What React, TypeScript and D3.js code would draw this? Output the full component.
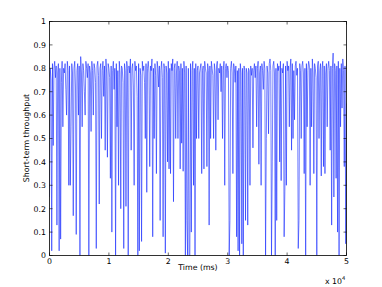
import React from "react";
import * as d3 from "d3";

const STEP_MS = 125;
const xTicks = [0, 10000, 20000, 30000, 40000, 50000];
const xTickLabels = ["0", "1", "2", "3", "4", "5"];
const yTicks = [0, 0.1, 0.2, 0.3, 0.4, 0.5, 0.6, 0.7, 0.8, 0.9, 1];
const yTickLabels = ["0", "0.1", "0.2", "0.3", "0.4", "0.5", "0.6", "0.7", "0.8", "0.9", "1"];

const throughput = [
  0.25, 0.8, 0.75, 0.02, 0.82, 0.47, 0.8, 0.83, 0.76, 0.81, 0.13, 0.78, 0.82, 0.02, 0.8, 0.07, 0.74, 0.83, 0.55, 0.8,
  0.78, 0.82, 0.71, 0.6, 0.83, 0.79, 0.3, 0.81, 0.3, 0.55, 0.82, 0.78, 0.17, 0.8, 0.83, 0.72, 0.09, 0.79, 0.82, 0.6,
  0.81, 0, 0.85, 0.78, 0.55, 0.82, 0.79, 0.7, 0.6, 0.83, 0.8, 0.76, 0.82, 0, 0.81, 0.78, 0.53, 0.83, 0.79, 0.6,
  0.82, 0.8, 0.74, 0.03, 0.81, 0.83, 0.77, 0.22, 0.8, 0.82, 0.5, 0.79, 0.83, 0.68, 0.81, 0.45, 0.84, 0.78, 0.42, 0.82,
  0.8, 0.76, 0.33, 0.81, 0.1, 0.79, 0.83, 0.71, 0.8, 0, 0.82, 0.55, 0.79, 0.3, 0.83, 0.78, 0.2, 0.81, 0.8, 0.74,
  0.03, 0.82, 0.79, 0.21, 0.83, 0.8, 0, 0.81, 0.78, 0.84, 0.45, 0.8, 0.82, 0.72, 0.3, 0.83, 0.79, 0.81, 0.68, 0,
  0.82, 0.02, 0.8, 0.77, 0.06, 0.83, 0.79, 0.81, 0.74, 0.5, 0.82, 0.27, 0.8, 0.83, 0.78, 0.38, 0.81, 0.79, 0.84, 0.08,
  0.8, 0.5, 0.82, 0.77, 0.35, 0.83, 0.8, 0.72, 0.81, 0.15, 0.79, 0.83, 0.76, 0.08, 0.82, 0.8, 0.01, 0.81, 0.78, 0.4,
  0.83, 0.37, 0.8, 0.35, 0.82, 0.79, 0.84, 0.23, 0.8, 0.82, 0.5, 0.78, 0.83, 0.5, 0.81, 0.79, 0.37, 0.82, 0.48, 0.8,
  0.36, 0.83, 0.78, 0, 0.81, 0.15, 0, 0.8, 0, 0, 0.82, 0.1, 0.79, 0.83, 0.3, 0.8, 0, 0.82, 0.5, 0.79,
  0.81, 0.5, 0.78, 0.8, 0.82, 0.35, 0.79, 0.81, 0.37, 0.83, 0.8, 0.78, 0.38, 0.82, 0.79, 0.13, 0.81, 0.5, 0.83, 0.8,
  0.77, 0.5, 0.82, 0.79, 0.45, 0.81, 0.83, 0.58, 0.8, 0.78, 0.82, 0.7, 0.81, 0.5, 0.79, 0.83, 0.3, 0.8, 0.82, 0.76,
  0.81, 0.79, 0, 0.15, 0.8, 0.83, 0.78, 0.35, 0.82, 0.8, 0.74, 0.81, 0.08, 0.79, 0.02, 0.8, 0, 0.82, 0.78, 0.05,
  0.8, 0, 0.81, 0.79, 0.15, 0.8, 0.78, 0.13, 0.8, 0.79, 0.3, 0.81, 0.77, 0.8, 0.46, 0.79, 0.82, 0.76, 0.81, 0.55,
  0.8, 0.83, 0.39, 0.78, 0.81, 0.3, 0.82, 0.79, 0.71, 0.83, 0.8, 0, 0.5, 0.81, 0.78, 0.52, 0.82, 0.84, 0.79, 0,
  0.4, 0.81, 0.83, 0.78, 0, 0.8, 0.15, 0.82, 0.79, 0.81, 0.4, 0.83, 0.32, 0.8, 0.78, 0.82, 0.08, 0.28, 0.81, 0.3,
  0.83, 0.79, 0.81, 0.55, 0.8, 0.84, 0.45, 0.82, 0.5, 0.79, 0.58, 0.81, 0.83, 0.77, 0.8, 0.03, 0.15, 0.82, 0.79, 0.5,
  0.81, 0.83, 0.78, 0.35, 0.8, 0, 0.82, 0.55, 0.79, 0.83, 0.81, 0.3, 0.8, 0.55, 0.84, 0.78, 0.35, 0.82, 0.8, 0.76,
  0, 0.81, 0.83, 0.5, 0.79, 0.82, 0.34, 0.8, 0.83, 0.38, 0.81, 0.35, 0.78, 0.82, 0.55, 0.8, 0.83, 0.79, 0.45, 0.81,
  0.13, 0.8, 0.865, 0.25, 0.82, 0.79, 0.33, 0.81, 0.1, 0.83, 0, 0.8, 0.55, 0.82, 0.63, 0.84, 0.79, 0.38, 0.81, 0.05,
  0.65,
];

const W = 382;
const H = 287;
const M = { left: 49.5, right: 346.5, top: 21.5, bottom: 255.5 };
const FONT = "'DejaVu Sans', 'Liberation Sans', Arial, sans-serif";
const FS = 7.8;

export default function App() {
  const x = d3.scaleLinear().domain([0, 50000]).range([M.left, M.right]);
  const y = d3.scaleLinear().domain([0, 1]).range([M.bottom, M.top]);
  const line = d3
    .line<number>()
    .x((_, i) => x(i * STEP_MS))
    .y((d) => y(d));
  const path = line(throughput) || "";
  const tl = 3;

  return (
    <svg
      width={W}
      height={H}
      style={{ position: "absolute", left: 0, top: 0, background: "#fff" }}
      fontFamily={FONT}
    >
      <rect x={0} y={0} width={W} height={H} fill="#fff" />
      <defs>
        <clipPath id="plotclip">
          <rect x={M.left} y={M.top} width={M.right - M.left} height={M.bottom - M.top} />
        </clipPath>
      </defs>
      <path
        d={path}
        fill="none"
        stroke="#1428ff"
        strokeWidth={0.7}
        strokeOpacity={0.85}
        strokeLinejoin="miter"
        clipPath="url(#plotclip)"
      />
      <rect
        x={M.left}
        y={M.top}
        width={M.right - M.left}
        height={M.bottom - M.top}
        fill="none"
        stroke="#000"
        strokeWidth={0.8}
      />
      {xTicks.map((t, i) => (
        <g key={"x" + i}>
          <line x1={x(t)} x2={x(t)} y1={M.bottom} y2={M.bottom - tl} stroke="#000" strokeWidth={0.6} />
          <line x1={x(t)} x2={x(t)} y1={M.top} y2={M.top + tl} stroke="#000" strokeWidth={0.6} />
          <text x={x(t)} y={264} fontSize={FS} textAnchor="middle" fill="#000">
            {xTickLabels[i]}
          </text>
        </g>
      ))}
      {yTicks.map((t, i) => (
        <g key={"y" + i}>
          <line x1={M.left} x2={M.left + tl} y1={y(t)} y2={y(t)} stroke="#000" strokeWidth={0.6} />
          <line x1={M.right} x2={M.right - tl} y1={y(t)} y2={y(t)} stroke="#000" strokeWidth={0.6} />
          <text x={46} y={y(t) + 2.8} fontSize={FS} textAnchor="end" fill="#000">
            {yTickLabels[i]}
          </text>
        </g>
      ))}
      <text x={198} y={269.5} fontSize={FS} textAnchor="middle" fill="#000">
        Time (ms)
      </text>
      <text x={325} y={284} fontSize={FS} fill="#000">
        x 10
        <tspan dy={-4.5} fontSize={5.2}>
          4
        </tspan>
      </text>
      <text
        transform={`translate(28.5,138) rotate(-90)`}
        fontSize={FS}
        textAnchor="middle"
        fill="#000"
      >
        Short-term throughput
      </text>
    </svg>
  );
}
